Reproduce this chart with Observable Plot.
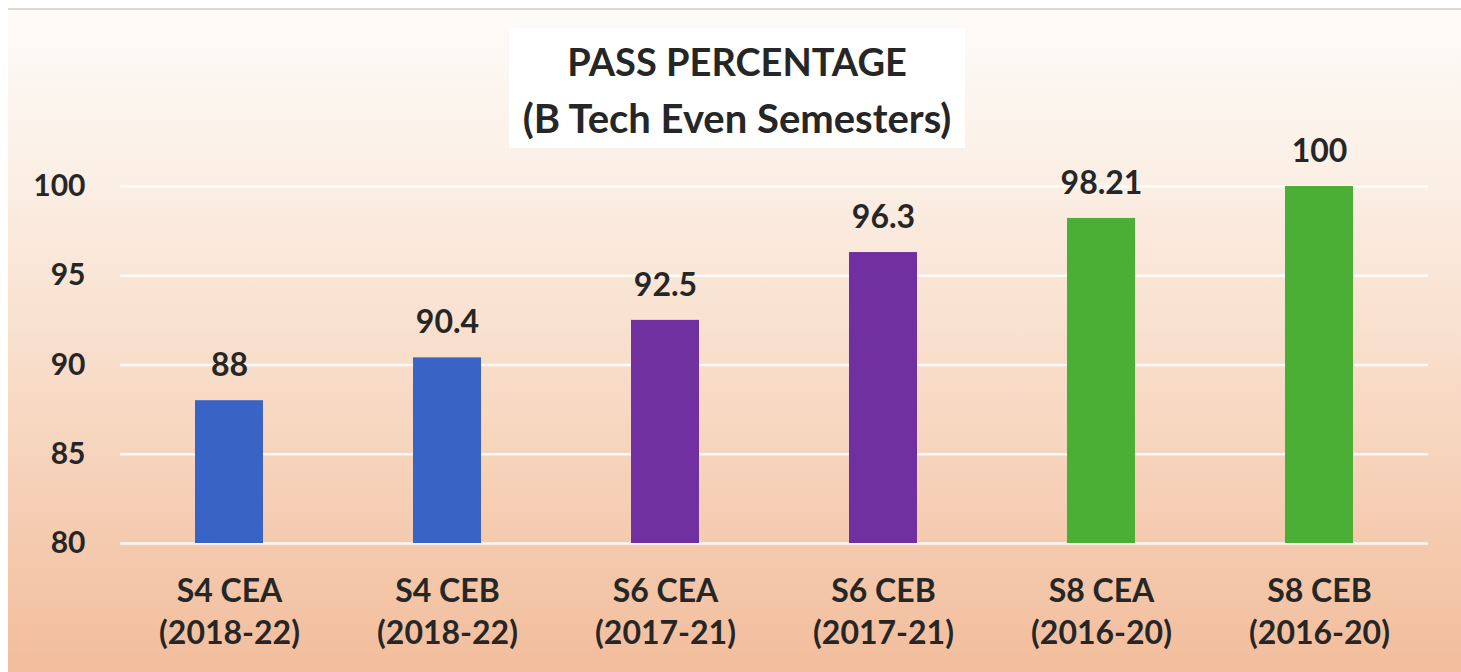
<!DOCTYPE html>
<html><head><meta charset="utf-8">
<script src="https://cdn.jsdelivr.net/npm/d3@7"></script>
<script src="https://cdn.jsdelivr.net/npm/@observablehq/plot@0.6"></script>
<style>
html,body{margin:0;padding:0;background:#fff;}
#wrap{position:relative;width:1461px;height:672px;overflow:hidden;font-family:Lato,"Open Sans",sans-serif;}
#bg{position:absolute;left:8px;top:8px;right:0;bottom:0;border-top:2px solid #dcd8d4;
  background:linear-gradient(to bottom,#fdfbf8 0%,#fbefe5 25%,#f8dcc8 55%,#f5ccb1 78%,#f2bd9c 100%);}
#title{position:absolute;left:509px;top:28px;width:456px;height:120px;background:#fff;text-align:center;
  font-weight:700;color:#262626;padding-top:4px;box-sizing:border-box;}
#title .t1{font-size:38px;line-height:58px;}
#title .t2{font-size:40px;line-height:56px;white-space:nowrap;}
#chart{position:absolute;left:0;top:0;}
</style>
</head><body>
<div id="wrap">
  <div id="bg"></div>
  <div id="title"><div class="t1">PASS PERCENTAGE</div><div class="t2">(B Tech Even Semesters)</div></div>
  <div id="chart"></div>
</div>
<script>
const categories = ["S4 CEA","S4 CEB","S6 CEA","S6 CEB","S8 CEA","S8 CEB"];
const batches = ["(2018-22)","(2018-22)","(2017-21)","(2017-21)","(2016-20)","(2016-20)"];
const values = [88, 90.4, 92.5, 96.3, 98.21, 100];
const barColors = ["#3a63c6","#3a63c6","#7030a0","#7030a0","#4caf35","#4caf35"];
const yTicks = [80, 85, 90, 95, 100];

const data = categories.map((c, i) => ({cat: c, batch: batches[i], value: values[i], color: barColors[i]}));
const batchOf = new Map(data.map(d => [d.cat, d.batch]));

const chart = Plot.plot({
  width: 1461,
  height: 672,
  marginTop: 186,
  marginBottom: 129,
  marginLeft: 120,
  marginRight: 33,
  style: {background: "transparent", fontFamily: "Lato, 'Open Sans', sans-serif", color: "#262626"},
  x: {type: "band", domain: categories, paddingInner: 0.69, paddingOuter: 0.345, label: null},
  y: {domain: [80, 100], label: null},
  marks: [
    Plot.ruleY(yTicks, {stroke: "#ffffff", strokeWidth: 2.5, strokeOpacity: 0.85}),
    Plot.barY(data, {x: "cat", y1: 80, y2: "value", fill: "color"}),
    Plot.text(data, {x: "cat", y: "value", text: d => String(d.value), dy: -35, lineAnchor: "middle",
      fontSize: 32, fontWeight: 700, fill: "#262626"}),
    Plot.axisY({ticks: yTicks, tickSize: 0, tickPadding: 35, fontSize: 30, fontWeight: 700, tickFormat: d => String(d), fill: "#262626"}),
    Plot.axisX({tickSize: 0, tickPadding: 28, fontSize: 32, fontWeight: 700, lineHeight: 1.32,
      tickFormat: d => d + "\n" + batchOf.get(d), fill: "#262626"})
  ]
});
document.getElementById("chart").appendChild(chart);
</script>
</body></html>
